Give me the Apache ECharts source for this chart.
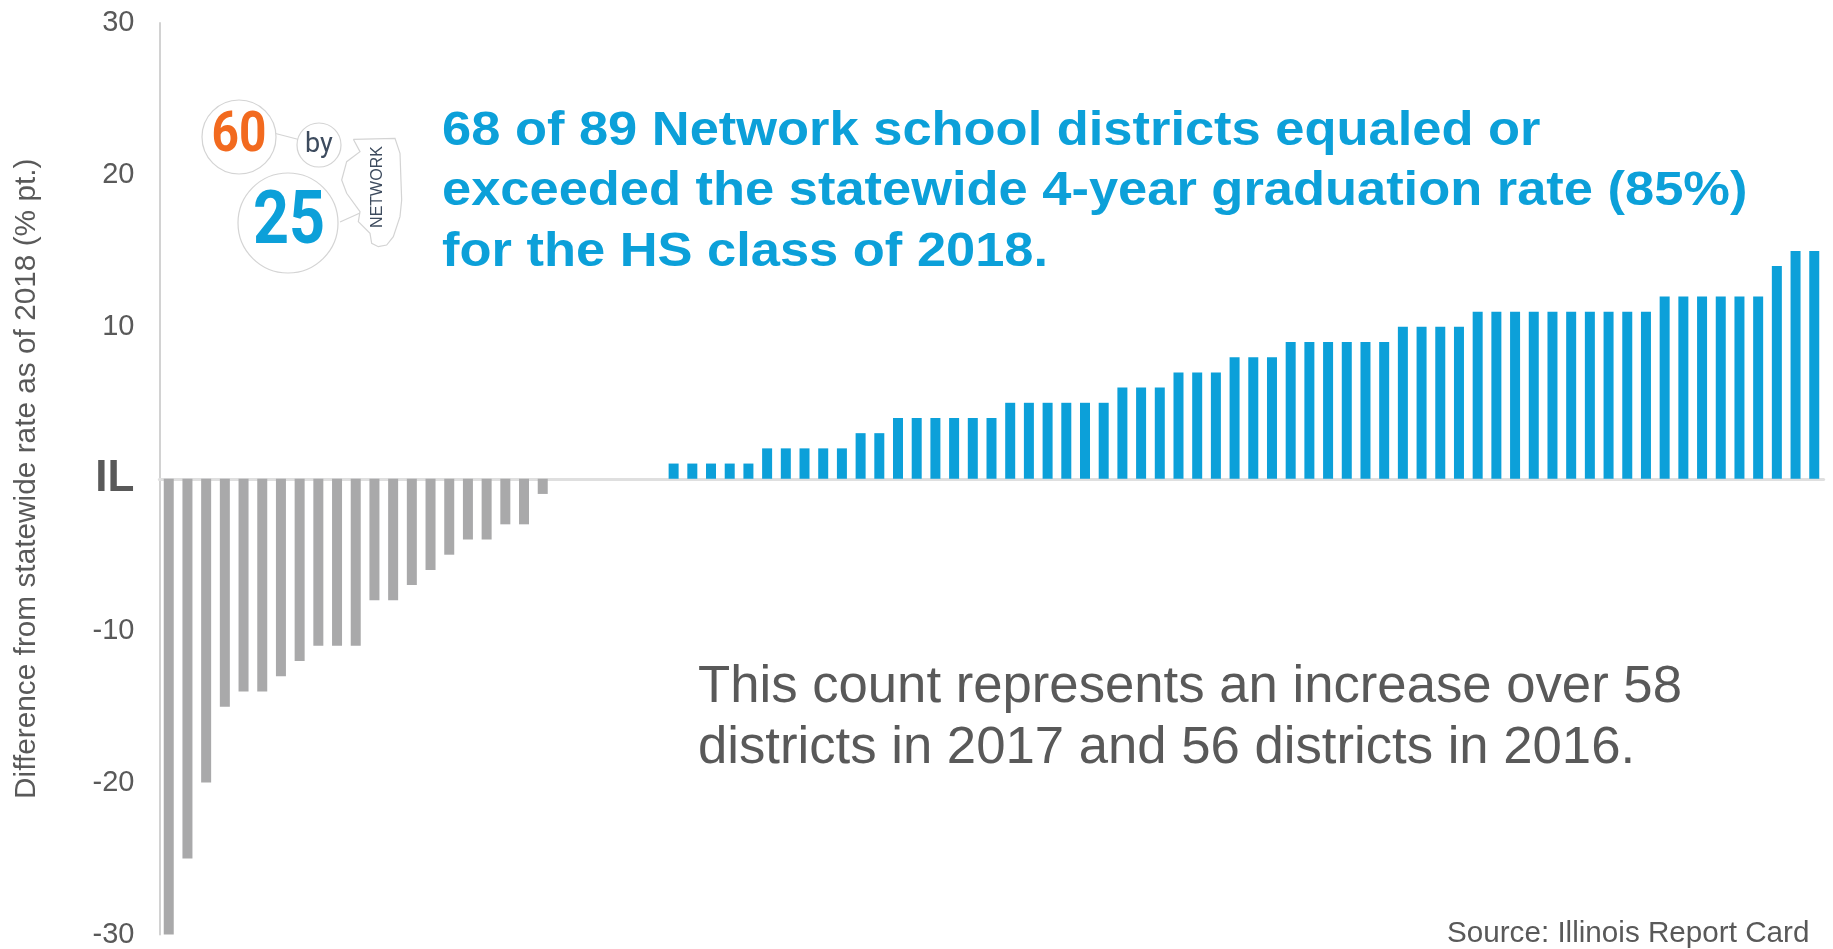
<!DOCTYPE html>
<html><head><meta charset="utf-8">
<style>html,body{margin:0;padding:0;background:#fff}#c{width:1833px;height:949px}</style>
<script src="https://cdn.jsdelivr.net/npm/echarts@6/dist/echarts.min.js"></script>
</head><body><div id="c"></div>
<script>
const belowState = [-30,-25,-20,-15,-14,-14,-13,-12,-11,-11,-11,-8,-8,-7,-6,-5,-4,-4,-3,-3,-1];
const atState = [0,0,0,0,0,0];
const aboveState = [1,1,1,1,1,2,2,2,2,2,3,3,4,4,4,4,4,4,5,5,5,5,5,5,6,6,6,7,7,7,8,8,8,9,9,9,9,9,9,10,10,10,10,11,11,11,11,11,11,11,11,11,11,12,12,12,12,12,12,14,15,15];
const yTitle = 'Difference from statewide rate as of 2018 (% pt.)';
const headline = ['68 of 89 Network school districts equaled or','exceeded the statewide 4-year graduation rate (85%)','for the HS class of 2018.'];
const note = ['This count represents an increase over 58','districts in 2017 and 56 districts in 2016.'];
const source = 'Source: Illinois Report Card';

const values = belowState.concat(atState, aboveState);
const categories = values.map((_, i) => 'D' + (i + 1));
const GREY = '#595959', BLUE = '#0ca0d9', LOGO = '#d4d4d4', NAVY = '#3d4b5e';
const SANS = '"Liberation Sans", Arial, sans-serif';
const T = (x, y, text, size, fill, o) => { o = o || {}; return {type:'text', x, y, scaleX:o.s||1, originX:0, originY:0,
  style:{text, font:(o.w||'normal')+' '+size+'px '+(o.f||SANS), fill, textVerticalAlign:'middle', textAlign:o.a||'left'}}; };
const circ = (cx, cy, r) => ({type:'circle', shape:{cx,cy,r}, style:{fill:'#fff', stroke:LOGO, lineWidth:1.2}});
const ln = (x1,y1,x2,y2) => ({type:'line', shape:{x1,y1,x2,y2}, style:{stroke:LOGO, lineWidth:1.2}});
const chart = echarts.init(document.getElementById('c'));
chart.setOption({
  animation:false, backgroundColor:'#fff',
  grid:{left:159.4, right:9.4, top:23, bottom:14, containLabel:false},
  xAxis:{type:'category', data:categories, boundaryGap:true,
    axisLine:{onZero:true, lineStyle:{color:'#dfdfdf', width:3}}, axisTick:{show:false}, axisLabel:{show:false}, splitLine:{show:false}},
  yAxis:{type:'value', min:-30, max:30, interval:10, name:yTitle, nameLocation:'middle', nameGap:118,
    nameTextStyle:{color:GREY, fontSize:29.8, fontFamily:SANS},
    axisLine:{show:true, onZero:false, lineStyle:{color:'#d2d2d2', width:2}}, axisTick:{show:false}, splitLine:{show:false},
    axisLabel:{color:GREY, fontSize:29, margin:25, fontFamily:SANS,
      formatter:v => v === 0 ? '{il|IL}' : String(v),
      rich:{il:{fontSize:44, fontWeight:'bold', color:GREY, fontFamily:SANS}}}},
  series:[{type:'bar', data:values.map(v=>({value:v, itemStyle:{color:v<0?'#a9a9aa':BLUE}})), barWidth:10, silent:true}],
  graphic:[
    ln(262,130,320,145), ln(335,218,300,243), ln(340,222,360,213),
    circ(239,137,37), circ(319,145,22), circ(288,223,50),
    {type:'polyline', x:190, y:90, scaleX:1/3, scaleY:1/3, shape:{points:[[490,148],[615,145],[630,190],[635,330],[630,380],[610,440],[590,465],[565,470],[545,460],[540,430],[505,395],[510,365],[470,310],[455,270],[470,215],[510,185],[490,148]]}, style:{fill:'#fff', stroke:LOGO, lineWidth:3.6}},
    T(239,137,'60',55,'#f26a1f',{w:'bold',a:'center',s:0.87,f:'Roboto'}),
    T(319,145,'by',27,NAVY,{a:'center',f:'Roboto'}),
    T(289,224,'25',74,BLUE,{w:'bold',a:'center',s:0.85,f:'Roboto'}),
    {type:'text', x:378, y:187, rotation:Math.PI/2, style:{text:'NETWORK', font:'16px '+SANS, fill:NAVY, textAlign:'center', textVerticalAlign:'middle'}},
    ...headline.map((t,i)=>T(442,131+i*60.5,t,49,BLUE,{w:'bold',s:1.07})),
    ...note.map((t,i)=>T(698,688+i*61,t,51,GREY,{s:1.033})),
    T(1447,934,source,29,GREY,{s:1.022})
  ]
});
</script></body></html>
